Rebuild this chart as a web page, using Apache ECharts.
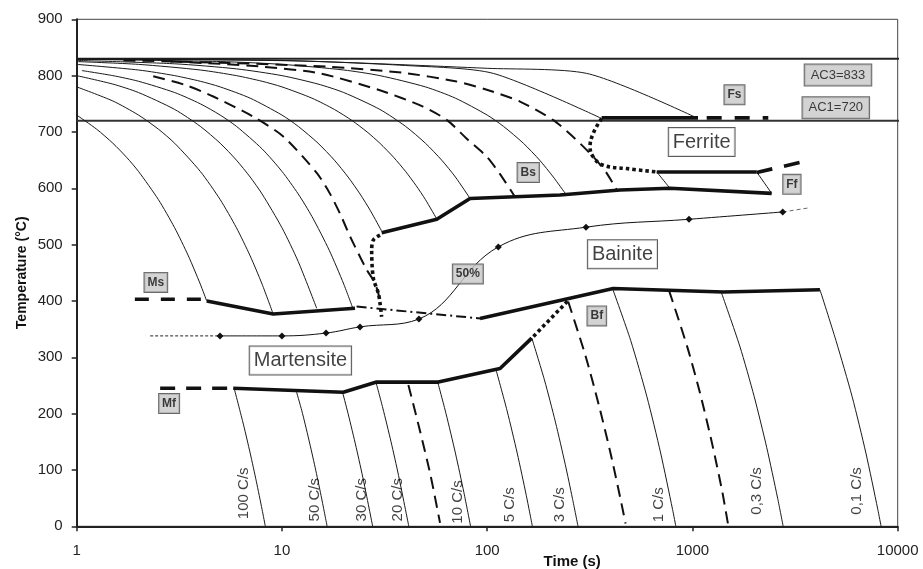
<!DOCTYPE html>
<html><head><meta charset="utf-8">
<script src="https://cdn.jsdelivr.net/npm/echarts@6/dist/echarts.min.js"></script>
<style>html,body{margin:0;padding:0;background:#fff}#c{width:923px;height:569px}</style>
</head><body><div id="c"></div>
<script>
// ---------- axis ticks ----------
const xTicks = [1, 10, 100, 1000, 10000];
const yTicks = [0, 100, 200, 300, 400, 500, 600, 700, 800, 900];

// ---------- critical temperatures [time s, temp C] ----------
const ac3Line = [[1, 830], [10300, 830]];
const ac1Line = [[1, 720], [10300, 720]];

// ---------- cooling curves (visible pieces) ----------
const rate100Top = [[1,730],[1.25,705],[1.5,680],[1.75,655],[2,630],[2.5,580],[3,530],[3.5,480],[4,430],[4.3,400]];
const rate100Bot = [[5.85,245],[6.5,180],[7,130],[7.5,80],[8,30],[8.3,0]];
const rate50Top = [[1,780],[1.5,755],[2,730],[2.5,705],[3,680],[4,630],[5,580],[6,530],[7,480],[8,430],[9.06,377]];
const rate50Bot = [[11.7,242],[12.5,205],[13.5,155],[14.5,105],[15.5,55],[16.6,0]];
const rate30Top = [[1,800],[1.5,785],[2,770],[3,740],[4,710],[5,680],[6,650],[7,620],[8,590],[10,530],[12,470],[14.77,387]];
const rate30Bot = [[19.7,239],[21,200],[23,140],[25,80],[27.67,0]];
const rate20Top = [[1.06,809],[1.5,800],[2,790],[3,770],[4,750],[5,730],[6,710],[8,670],[10,630],[12,590],[14,550],[17,490],[20,430],[22.2,386]];
const rate20Bot = [[28.7,256],[31,210],[34,150],[37,90],[41.5,0]];
const dashATop = [[2.36,799],[3.4,783],[4.63,763],[7.25,727],[10.15,692],[14.8,627],[17.1,591],[19.3,553],[21.5,514],[25.9,455],[28.4,432],[30.4,395]];
const dashABot = [[41.3,251],[47,170],[53,90],[58.9,6]];
const rate10Top = [[1,820],[2,810],[3,800],[4,790],[5,780],[7,760],[10,730],[12,710],[15,680],[18,650],[21,620],[24,590],[27,560],[30.6,524]];
const rate10Bot = [[57.3,257],[63,200],[70,130],[77,60],[83,0]];
const rate5Top = [[1,825],[2,820],[4,810],[6,800],[8,790],[10,780],[14,760],[18,740],[22,720],[26,700],[30,680],[35,655],[40,630],[45,605],[50,580],[56.9,545]];
const rate5Bot = [[110,280],[125,205],[140,130],[155,55],[166,0]];
const rate3Top = [[1,827],[3,821],[6,812],[10,800],[15,785],[20,770],[30,740],[40,710],[50,680],[60,650],[70,620],[82.5,582]];
const rate3Bot = [[165,334],[190,260],[215,185],[240,110],[260,50],[277,0]];
const dashBTop = [[2.86,825],[5,821],[8,816],[15.3,804],[30,774],[48.7,745],[63.7,721],[79.5,688],[99.5,656],[115,626],[136,586]];
const dashBBot = [[248,399],[300,305],[350,215],[400,128],[450,42],[472,5]];
const rate1Top = [[1,829],[5,825],[10,820],[20,810],[30,800],[50,780],[70,760],[100,730],[120,710],[150,680],[180,650],[210,620],[240,591]];
const rate1Bot = [[408,422],[500,330],[600,230],[700,130],[800,30],[830,0]];
const dashCTop = [[1.69,827],[5,823],[16.6,816],[38.9,805],[70,790],[99.5,775],[144.5,754],[210,721],[250,698],[294,674],[340,650],[382,627],[428,597]];
const dashCBot = [[770,418],[950,315],[1100,230],[1250,145],[1400,60],[1496,0]];
const rate03Top = [[1,829],[10,827],[40,818],[107,804],[361,724]];
const rate03Mid = [[670,629],[777,600]];
const rate03Bot = [[1380,416],[1700,320],[2000,230],[2300,140],[2600,50],[2767,0]];
const rate01Top = [[1,830],[12,826],[100,813],[305,804],[1064,724]];
const rate01Mid = [[2056,629],[2432,591]];
const rate01Bot = [[4180,420],[5000,330],[6000,230],[7000,130],[8000,30],[8300,0]];

// ---------- transformation lines ----------
const msDash = [[1.92,403],[4.06,403]];
const msLine = [[4.3,400],[9.07,377],[22.7,387]];
const msBfDashDot = [[23.1,390],[92.2,369]];
const bfLine = [[92.2,369],[411,422],[1413,416],[4180,420]];
const bfDotted = [[168,337],[253,404]];
const mfDash = [[2.55,245],[5.58,245]];
const mfLine = [[5.79,245],[19.9,238],[28.9,256],[57.8,256],[115.5,280],[164.8,334]];
const bsLine = [[30.6,521],[56.8,545],[82.5,582],[226,588],[444,597],[777,600],[2432,591]];
const bsDotted = [[30.05,517],[27.86,508],[27.36,490],[27.86,441],[29.47,414],[30.05,396],[30.6,372]];
const fsDotted = [[361,724],[329,698],[317,674],[328,656],[367,641],[478,635],[670,629]];
const fsLine = [[361,725],[1064,725]];
const fsDash = [[1173,725],[2342,725]];
const ffLine = [[670,629],[2056,629]];
const ffDash = [[2056,628],[3341,646]];

// ---------- 50 % transformation line ----------
const half = [[4.99,338],[10,338],[16.4,343],[24,354],[46.5,368],[113.3,496],[303,531],[962,545],[2753,558]];
const halfLeft = [[2.28,338],[4.99,338]];
const halfRight = [[2753,558],[3656,565]];

// ---------- annotations [text, time, temp] ----------
const boxLabels = [['Ms',2.43,433],['Mf',2.82,218],['50%',80.5,448],['Bs',158.5,628],['Bf',342,373.5],['Fs',1602,766],['Ff',3052,607]];
const noteLabels = [['AC3=833',5117,801],['AC1=720',4994,743]];
const phaseLabels = [['Ferrite',1109,682],['Bainite',456,483],['Martensite',12.3,294.5]];
const rateLabels = [['100 C/s',6.53,58.6],['50 C/s',14.49,47.2],['30 C/s',24.47,47.2],['20 C/s',36.56,47.2],['10 C/s',71.66,43.1],
                    ['5 C/s',129.2,38.3],['3 C/s',226.3,38.3],['1 C/s',687.3,38.3],['0,3 C/s',2056,62.8],['0,1 C/s',6313,62.8]];

const FONT = "'Liberation Sans', Arial, Helvetica, sans-serif";

function seg(data, o) {
  o = o || {};
  return {
    type: 'line', data: data, symbol: 'none', silent: true, animation: false,
    clip: o.clip === undefined ? true : o.clip,
    smooth: o.smooth || false,
    z: o.z || 2,
    lineStyle: { color: o.color || '#111', width: o.w || 1, type: o.dash || 'solid', cap: 'butt', join: 'round' }
  };
}
const thin = {w: 1, color: '#1a1a1a'};
const dashC = {w: 2, dash: [12, 7], color: '#111'};
const bold = {w: 3.6, color: '#111', z: 3};
const dotted = {w: 3.6, dash: [3.5, 3], color: '#111', z: 3};

const series = [
  seg(ac3Line, {w: 2, color: '#222', clip: false}),
  seg(ac1Line, {w: 2, color: '#333', clip: false}),
];
[rate100Top, rate100Bot, rate50Top, rate50Bot, rate30Top, rate30Bot, rate20Top, rate20Bot,
 rate10Top, rate10Bot, rate5Top, rate5Bot, rate3Top, rate3Bot, rate1Top, rate1Bot,
 rate03Top, rate03Mid, rate03Bot, rate01Top, rate01Mid, rate01Bot].forEach(d => series.push(seg(d, Object.assign({smooth: 0.25}, thin))));
[dashATop, dashABot, dashBTop, dashBBot, dashCTop, dashCBot].forEach(d => series.push(seg(d, Object.assign({smooth: 0.25}, dashC))));

series.push(seg(msDash, Object.assign({}, bold, {dash: [14, 12]})));
series.push(seg(msLine, bold));
series.push(seg(msBfDashDot, {w: 2, dash: [10, 4, 2, 4], color: '#111', z: 3}));
series.push(seg(bfLine, bold));
series.push(seg(bfDotted, dotted));
series.push(seg(mfDash, Object.assign({}, bold, {dash: [15, 11]})));
series.push(seg(mfLine, bold));
series.push(seg(bsLine, bold));
series.push(seg(bsDotted, Object.assign({smooth: 0.3}, dotted)));
series.push(seg(fsDotted, Object.assign({smooth: 0.4}, dotted)));
series.push(seg(fsLine, bold));
series.push(seg(fsDash, Object.assign({}, bold, {dash: [15, 13]})));
series.push(seg(ffLine, bold));
series.push(seg(ffDash, Object.assign({}, bold, {dash: [16, 12]})));

series.push(seg(halfLeft, {w: 1, dash: [3, 2], color: '#222'}));
series.push(seg(halfRight, {w: 1, dash: [4, 3], color: '#666'}));
series.push({
  type: 'line', data: half, smooth: 0.4, symbol: 'diamond', symbolSize: 7, showSymbol: true,
  silent: true, animation: false, z: 3,
  lineStyle: {color: '#111', width: 1}, itemStyle: {color: '#111', borderWidth: 0}
});

function labelSeries(list, lab) {
  return {
    type: 'scatter', silent: true, animation: false, z: 6, symbolSize: 1,
    itemStyle: {color: 'rgba(0,0,0,0)'},
    data: list.map(a => ({name: a[0], value: [a[1], a[2]]})),
    label: Object.assign({show: true, position: 'inside', formatter: '{b}', fontFamily: FONT, color: '#111'}, lab)
  };
}
series.push(labelSeries(boxLabels, {fontSize: 12, fontWeight: 'bold', lineHeight: 13, padding: [3, 3, 3, 3],
  backgroundColor: '#c8c8c8', borderColor: '#444', borderWidth: 1}));
series.push(labelSeries(noteLabels, {fontSize: 13, lineHeight: 15, padding: [3, 6, 3, 6],
  backgroundColor: '#c8c8c8', borderColor: '#444', borderWidth: 1}));
series.push(labelSeries(phaseLabels, {fontSize: 20, lineHeight: 22, padding: [3, 4, 3, 4],
  backgroundColor: '#fff', borderColor: '#333', borderWidth: 1}));
series.push(labelSeries(rateLabels, {fontSize: 15, rotate: 90}));

const chart = echarts.init(document.getElementById('c'));
chart.setOption({
  animation: false,
  backgroundColor: '#fff',
  grid: {left: 76.7, right: 25.3, top: 19.3, bottom: 42.7, show: true, borderColor: '#444', borderWidth: 1,
         containLabel: false, outerBoundsMode: 'none'},
  xAxis: {
    type: 'log', logBase: 10, min: xTicks[0], max: xTicks[xTicks.length - 1],
    axisLine: {lineStyle: {color: '#222', width: 2}},
    axisTick: {length: 5, lineStyle: {color: '#222', width: 1.5}},
    splitLine: {show: false},
    axisLabel: {fontSize: 15, color: '#222', margin: 17, fontFamily: FONT,
      formatter: v => { const r = Math.round(v); return xTicks.indexOf(r) >= 0 ? String(r) : ''; }},
    name: 'Time (s)', nameLocation: 'middle', nameGap: 28, nameMoveOverlap: false,
    nameTextStyle: {fontWeight: 'bold', fontSize: 15, color: '#111', fontFamily: FONT, padding: [0, 0, 0, 170]}
  },
  yAxis: {
    type: 'value', min: yTicks[0], max: yTicks[yTicks.length - 1], interval: 100,
    axisLine: {show: true, lineStyle: {color: '#222', width: 2}},
    axisTick: {show: true, length: 5, lineStyle: {color: '#222', width: 1.5}},
    splitLine: {show: false},
    axisLabel: {fontSize: 15, color: '#222', margin: 14, fontFamily: FONT,
      formatter: v => yTicks.indexOf(v) >= 0 ? String(v) : ''},
    name: 'Temperature (°C)', nameLocation: 'middle', nameGap: 48, nameMoveOverlap: false,
    nameTextStyle: {fontWeight: 'bold', fontSize: 14, color: '#111', fontFamily: FONT}
  },
  series: series
});
</script>
</body></html>
